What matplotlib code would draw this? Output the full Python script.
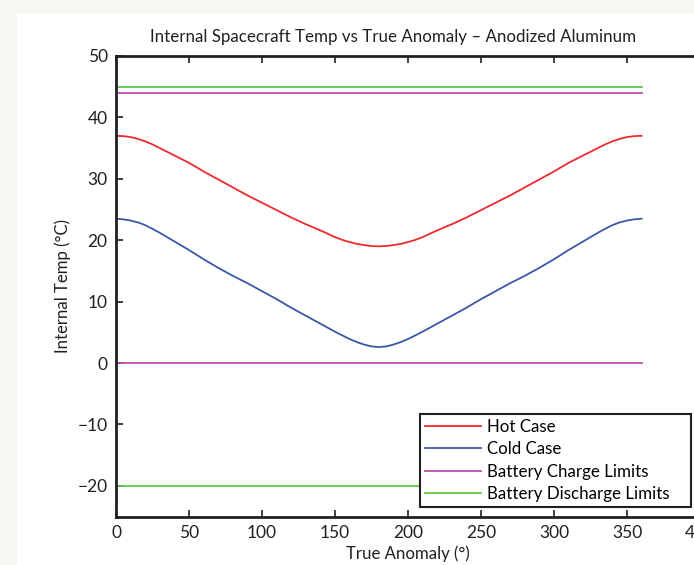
import matplotlib
matplotlib.use('Agg')
import matplotlib.pyplot as plt
from matplotlib.patches import Rectangle

plt.rcParams['font.family'] = ['Lato', 'DejaVu Sans']

# true anomaly (deg) and internal temperatures
anomaly = list(range(0, 361, 5))
hot_case = [37.0, 36.95, 36.8, 36.5, 36.1, 35.6, 35.0, 34.4, 33.8, 33.2, 32.6, 31.9, 31.2,
            30.55, 29.9, 29.25, 28.6, 27.95, 27.3, 26.7, 26.1, 25.5, 24.9, 24.3, 23.7, 23.15,
            22.6, 22.1, 21.6, 21.05, 20.5, 20.05, 19.7, 19.4, 19.2, 19.05, 19.0,
            19.05, 19.2, 19.4, 19.7, 20.05, 20.5, 21.05, 21.6, 22.1, 22.6, 23.15, 23.7, 24.3,
            24.9, 25.5, 26.1, 26.7, 27.3, 27.95, 28.6, 29.25, 29.9, 30.55, 31.2, 31.9, 32.6,
            33.2, 33.8, 34.4, 35.0, 35.6, 36.1, 36.5, 36.8, 36.95, 37.0]
cold_case = [23.5, 23.4, 23.2, 22.9, 22.45, 21.85, 21.2, 20.5, 19.8, 19.1, 18.4, 17.65, 16.9,
             16.2, 15.5, 14.85, 14.2, 13.6, 13.0, 12.35, 11.7, 11.05, 10.4, 9.7, 9.0, 8.35,
             7.7, 7.05, 6.4, 5.75, 5.1, 4.5, 3.9, 3.4, 3.0, 2.7, 2.6,
             2.7, 3.0, 3.4, 3.9, 4.5, 5.1, 5.75, 6.4, 7.05, 7.7, 8.35, 9.0, 9.7,
             10.4, 11.05, 11.7, 12.35, 13.0, 13.6, 14.2, 14.85, 15.5, 16.2, 16.9, 17.65, 18.4,
             19.1, 19.8, 20.5, 21.2, 21.85, 22.45, 22.9, 23.2, 23.4, 23.5]
limit_x = [0, 360]
charge_limits = [0, 44]
discharge_limits = [-20, 45]

W, H = 694, 565
fig = plt.figure(figsize=(W / 100, H / 100), dpi=100)
fig.patch.set_facecolor('#f9f7f4')
fig.patches.append(Rectangle((17 / W, 0), 1, (H - 13) / H, transform=fig.transFigure,
                             facecolor='white', edgecolor='none', zorder=-10))

ax = fig.add_axes([116 / W, (H - 516.5) / H, 584 / W, 460.5 / H])
ax.set_facecolor('white')

ax.plot(anomaly, hot_case, color='#ee2a2f', lw=1.3, label='Hot Case')
ax.plot(anomaly, cold_case, color='#3b58a8', lw=1.3, label='Cold Case')
for i, v in enumerate(charge_limits):
    ax.plot(limit_x, [v, v], color='#c04fae', lw=1.3,
            label='Battery Charge Limits' if i == 0 else None)
for i, v in enumerate(discharge_limits):
    ax.plot(limit_x, [v, v], color='#5fc84a', lw=1.3,
            label='Battery Discharge Limits' if i == 0 else None)

ax.set_xlim(0, 400)
ax.set_ylim(-25, 50)
ax.set_xticks(range(0, 401, 50))
ax.set_yticks(range(-20, 51, 10))
ax.set_yticklabels([str(t).replace('-', '\u2212') for t in range(-20, 51, 10)])
ax.tick_params(direction='in', top=True, right=False, length=5, width=1.2,
               labelsize=12.5, colors='#231f20', pad=6)
for s in ax.spines.values():
    s.set_linewidth(2)
    s.set_color('#231f20')

ax.set_title('Internal Spacecraft Temp vs True Anomaly \u2013 Anodized Aluminum',
             fontsize=12.2, color='#231f20', pad=10, x=0.475)
ax.set_xlabel('True Anomaly (\u00b0)', fontsize=12.1, color='#231f20', labelpad=3)
ax.set_ylabel('Internal Temp (\u00b0C)', fontsize=12.1, color='#231f20', labelpad=5)

# legend box spans px x 420-691, y 413-507
leg = ax.legend(loc='lower left', mode='expand',
                bbox_to_anchor=(420 / W, (H - 507) / H, 271 / W, 94 / H),
                bbox_transform=fig.transFigure, borderaxespad=0, fancybox=False,
                fontsize=12.2, handlelength=3.3, labelspacing=0.37, borderpad=0.3,
                handletextpad=0.35, framealpha=1)
leg.get_frame().set_edgecolor('#231f20')
leg.get_frame().set_linewidth(1.5)

fig.savefig('out.png', dpi=100, facecolor=fig.get_facecolor())
